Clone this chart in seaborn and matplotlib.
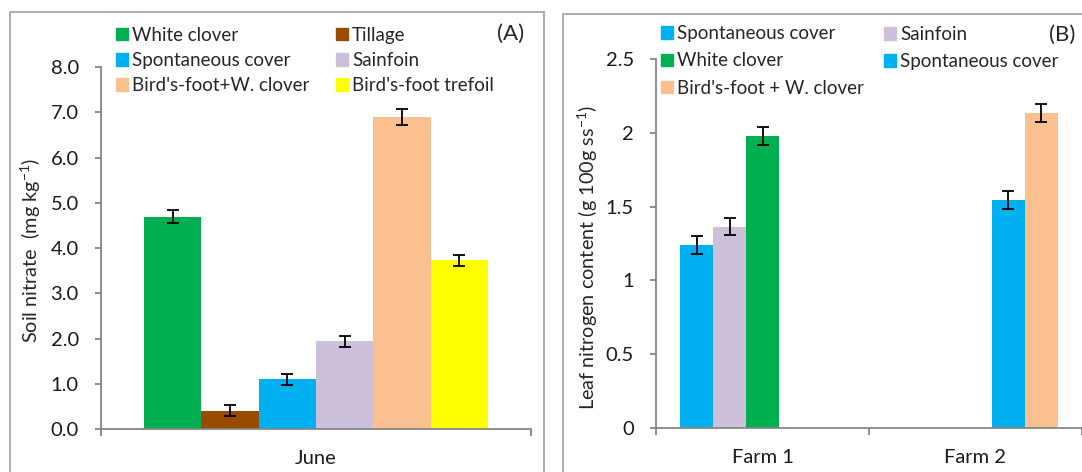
import matplotlib
matplotlib.use("Agg")
import matplotlib.pyplot as plt
import seaborn as sns
import pandas as pd
from matplotlib.patches import Rectangle

# ---------------- data ----------------
a_category = ["June"]
a_series = ["White clover", "Tillage", "Spontaneous cover", "Sainfoin",
            "Bird's-foot+W. clover", "Bird's-foot trefoil"]
a_values = [4.69, 0.40, 1.10, 1.94, 6.90, 3.73]
a_errors = [0.14, 0.12, 0.12, 0.12, 0.18, 0.12]
a_colors = ["#00B050", "#994C00", "#00B0F0", "#CCC0DA", "#FAC090", "#FFFF00"]
a_yticks = [0, 1, 2, 3, 4, 5, 6, 7, 8]

b_categories = ["Farm 1", "Farm 2"]
b_series = ["Spontaneous cover", "Sainfoin", "White clover",
            "Spontaneous cover", "Bird's-foot + W. clover"]
b_series_cat = ["Farm 1", "Farm 1", "Farm 1", "Farm 2", "Farm 2"]
b_values = [1.24, 1.365, 1.977, 1.542, 2.133]
b_errors = [0.061, 0.056, 0.062, 0.061, 0.062]
b_colors = ["#00B0F0", "#CCC0DA", "#00B050", "#00B0F0", "#FAC090"]
b_yticks = [0, 0.5, 1, 1.5, 2, 2.5]
b_yticklabels = ["0", "0.5", "1", "1.5", "2", "2.5"]

# ---------------- style ----------------
sns.set_style("white")
plt.rcParams["font.family"] = ["Lato", "DejaVu Sans"]
plt.rcParams["mathtext.fontset"] = "custom"
plt.rcParams["mathtext.rm"] = "Lato"
plt.rcParams["mathtext.it"] = "Lato"
plt.rcParams["mathtext.default"] = "regular"
spine_c = "#868686"
frame_c = "#A6A6A6"
W, H = 1082, 472

fig = plt.figure(figsize=(W / 100, H / 100), dpi=100)

# panel frames
fig.patches.append(Rectangle((10 / W, -0.1), (544 - 10) / W, 1.1 - 11.5 / H,
                             transform=fig.transFigure, fill=False,
                             edgecolor=frame_c, lw=1.3))
fig.patches.append(Rectangle((563 / W, -0.1), 0.6, 1.1 - 14 / H,
                             transform=fig.transFigure, fill=False,
                             edgecolor=frame_c, lw=1.3))

axA = fig.add_axes([101 / W, 1 - 429 / H, (531 - 101) / W, (429 - 67) / H])
axB = fig.add_axes([656 / W, 1 - 428 / H, (1082 - 656) / W, (428 - 59) / H])


def style_axis(ax):
    for s in ["top", "right"]:
        ax.spines[s].set_visible(False)
    for s in ["left", "bottom"]:
        ax.spines[s].set_color(spine_c)
        ax.spines[s].set_linewidth(1.3)
    ax.tick_params(axis="y", which="both", left=True, direction="out", length=4.5,
                   width=1.3, color=spine_c, labelsize=14.5, pad=11.5,
                   labelcolor="#1a1a1a")
    ax.tick_params(axis="x", which="major", bottom=False, length=0,
                   labelsize=14.5, pad=15, labelcolor="#1a1a1a")
    ax.tick_params(axis="x", which="minor", bottom=True, direction="out", length=5,
                   width=1.3, color=spine_c)


def err(ax, errors):
    for cont, e in zip(ax.containers, errors):
        for p in cont.patches:
            if p.get_height() > 0:
                ax.errorbar(p.get_x() + p.get_width() / 2, p.get_height(), yerr=e,
                            fmt="none", ecolor="black", elinewidth=1.3,
                            capsize=4, capthick=1.3)


def col_legend(handles, labels, x_px, yc_px, spacing):
    return fig.legend(handles, labels, ncol=1, frameon=False, loc="center left",
                      bbox_to_anchor=(x_px / W, 1 - yc_px / H), fontsize=13.5,
                      handlelength=0.66, handleheight=0.66, handletextpad=0.2,
                      labelspacing=spacing, borderpad=0, borderaxespad=0)


# ---------------- panel A ----------------
dfA = pd.DataFrame({"cat": a_category * len(a_series), "series": a_series, "val": a_values})
sns.barplot(data=dfA, x="cat", y="val", hue="series", hue_order=a_series,
            palette=a_colors, saturation=1, width=0.8, errorbar=None,
            linewidth=0, ax=axA, legend=False)
err(axA, a_errors)
axA.set_ylim(0, 8)
axA.set_xlim(-0.5, 0.5)
axA.set_yticks(a_yticks)
axA.set_yticklabels([f"{v:.1f}" for v in a_yticks])
axA.set_xticks([-0.5, 0.5], minor=True)
axA.set_xlabel("")
axA.set_ylabel("Soil nitrate  (mg kg$^{-1}$)", fontsize=14.3)
style_axis(axA)
axA.yaxis.set_label_coords(-0.1346, 0.492)

hA = [Rectangle((0, 0), 1, 1, color=c) for c in a_colors]
col_legend([hA[0], hA[2], hA[4]], [a_series[0], a_series[2], a_series[4]], 116, 60.5, 0.44)
col_legend([hA[1], hA[3], hA[5]], [a_series[1], a_series[3], a_series[5]], 336, 60.5, 0.44)
fig.text(524 / W, 1 - 34 / H, "(A)", fontsize=16, ha="right", va="center")

# ---------------- panel B ----------------
series_ids = [f"s{i}" for i in range(len(b_series))]
dfB = pd.DataFrame({"cat": b_series_cat, "series": series_ids, "val": b_values})
sns.barplot(data=dfB, x="cat", y="val", hue="series", hue_order=series_ids,
            order=b_categories, palette=b_colors, saturation=1, width=0.77,
            errorbar=None, linewidth=0, ax=axB, legend=False)
err(axB, b_errors)
axB.set_ylim(0, 2.5)
axB.set_xlim(-0.5, 1.5)
axB.set_yticks(b_yticks)
axB.set_yticklabels(b_yticklabels)
axB.set_xticks([-0.5, 0.5, 1.5], minor=True)
axB.set_xlabel("")
axB.set_ylabel("Leaf nitrogen content (g 100g ss$^{-1}$)", fontsize=14.3)
style_axis(axB)
axB.yaxis.set_label_coords(-0.131, 0.461)

hB = [Rectangle((0, 0), 1, 1, color=c) for c in b_colors]
col_legend([hB[0], hB[2], hB[4]], [b_series[0], b_series[2], b_series[4]], 661, 61, 0.54)
col_legend([hB[1], hB[3]], [b_series[1], b_series[3]], 884, 48, 0.54)
fig.text(1075 / W, 1 - 35 / H, "(B)", fontsize=16, ha="right", va="center")

fig.savefig("out.png", dpi=100)
